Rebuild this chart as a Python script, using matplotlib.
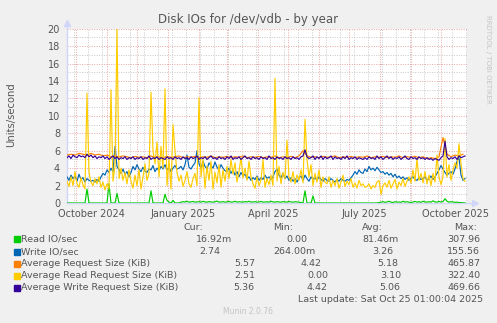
import numpy as np
import pandas as pd
import matplotlib
matplotlib.use("Agg")
import matplotlib.pyplot as plt
from matplotlib.patches import Rectangle

# ---------------------------------------------------------------------------
# Datos (un punto cada 2 dias / 4 dias)
# ---------------------------------------------------------------------------
inicio = pd.Timestamp("2024-09-22")
fin = inicio + pd.Timedelta(days=400)

read_io = [
    0, 0, 0, 0, 0, 0, 0, 0, 0, 0,
    1.6,
    0, 0, 0, 0, 0, 0, 0, 0, 0, 0,
    2.2,
    0, 0, 0,
    1.1,
    0, 0, 0, 0, 0, 0, 0, 0, 0, 0, 0, 0, 0, 0, 0, 0,
    1.4,
    0, 0, 0, 0, 0, 0,
    1.0,
    0.3, 0.1, 0,
    0.3,
    0, 0, 0,
    0.1, 0.15, 0.12, 0.2, 0.1, 0.13, 0.18, 0.1, 0.12, 0.15,
    0.1, 0.2, 0.12, 0.1, 0.16, 0.12, 0.1, 0.14, 0.22, 0.1,
    0.12, 0.15, 0.1, 0.13, 0.18, 0.1, 0.12, 0.2, 0.1, 0.14,
    0.12, 0.1, 0.16, 0.12, 0.2, 0.1, 0.13, 0.15, 0.1, 0.12,
    0.18, 0.1, 0.12, 0.14, 0.1, 0.2, 0.12, 0.1, 0.15, 0.12,
    0.1, 0.16, 0.12, 0.1, 0.18, 0.12, 0.1, 0.14, 0.12, 0.1,
    0.05, 0,
    1.4,
    0, 0, 0,
    0.8,
    0, 0, 0, 0, 0, 0, 0, 0, 0, 0, 0, 0, 0, 0, 0, 0,
    0, 0, 0, 0, 0, 0, 0, 0, 0, 0, 0, 0, 0, 0, 0, 0,
    0.05, 0.1, 0.15, 0.08, 0.12, 0.2, 0.1, 0.05, 0.15, 0.1,
    0.12, 0.08, 0.2, 0.1, 0.15, 0.1, 0.05, 0.12, 0.18, 0.1,
    0.15, 0.08, 0.2, 0.12, 0.1, 0.15, 0.1, 0.25, 0.12, 0.1,
    0.18, 0.12, 0.15, 0.5, 0.2, 0.1, 0.15, 0.12, 0.08, 0.1,
    0.05, 0.03, 0.02, 0.02,
]

write_io = [
    3.0, 2.6, 3.2, 2.8, 3.1, 2.5, 3.3, 2.7, 2.9, 2.4, 2.8, 2.6, 2.5,
    2.6, 2.4, 2.7, 2.5, 3.0, 3.4, 3.2, 3.8, 3.5,
    4.0, 3.6, 6.5, 4.2, 3.8,
    3.4, 3.9, 3.3, 3.6, 3.0, 3.5, 4.2, 3.8, 4.4, 3.9, 3.6, 4.1, 3.7, 3.5, 3.9,
    3.8, 4.3, 3.6, 4.0, 3.7, 4.2, 3.9, 4.4, 3.8, 4.1, 3.6, 4.0, 4.3, 3.9,
    4.0, 4.2, 3.8, 4.4, 5.5, 4.1, 3.9, 4.3, 4.6, 6.0,
    4.5, 4.0, 4.8, 4.2, 3.9, 4.6, 4.3, 4.0, 4.7, 4.1, 3.8, 4.4, 4.0, 3.7,
    3.6, 4.0, 3.4, 3.8, 3.2, 3.6, 3.0, 3.5, 3.1, 3.3,
    2.8, 3.0, 2.6, 2.9, 2.7, 3.1, 2.6, 2.9, 2.7, 3.2, 2.8, 3.0,
    2.7, 3.0, 3.6, 3.9, 3.2, 2.9, 3.4, 2.8, 3.1,
    2.6, 2.9, 2.5, 2.8, 2.4, 2.9, 3.1, 2.6, 3.2, 2.8, 2.5, 3.0, 2.7, 2.9, 2.6,
    3.0, 2.7, 2.5, 2.8,
    2.6, 2.5, 2.8, 2.6, 2.4, 2.7, 2.5, 2.8, 2.6, 2.5, 2.7, 2.6, 2.9,
    3.2, 3.6, 3.3, 3.8, 3.5, 3.4, 3.9, 3.6, 4.2, 3.8, 4.0, 3.7, 4.1,
    3.8, 3.5, 3.6, 3.3, 3.5, 3.2, 3.4, 3.0, 3.3, 2.9, 3.1,
    2.8, 3.0, 2.7, 2.9, 2.6, 2.8, 3.0, 2.7, 2.6, 2.9, 2.7, 2.8, 3.0, 2.6, 2.8,
    3.1, 2.7, 3.0,
    3.4, 3.8, 4.3, 3.9, 3.5, 3.2, 3.4, 3.6, 3.3,
    3.9, 4.8, 5.2, 3.2, 2.6, 2.8,
]

avg_req = [
    5.5, 5.6, 5.5, 5.7, 5.6, 5.5, 5.7, 5.5, 5.6, 5.4, 5.5, 5.3, 5.4, 5.3, 5.4, 5.3,
    5.2, 5.35, 5.25, 5.3, 5.2, 5.4, 5.25, 5.3, 5.2, 5.35,
    5.25, 5.3, 5.4, 5.2, 5.3, 5.25, 5.35, 5.2, 5.3, 5.25,
    5.4, 5.2, 5.3, 5.25, 5.35, 5.2, 5.3, 5.25, 5.4, 5.2,
    5.3, 5.25, 5.35, 5.2, 5.3, 5.25, 5.4, 5.2, 5.3, 5.25,
    5.35, 5.2, 5.4,
    6.0, 5.4,
    5.25, 5.3, 5.2, 5.35, 5.25, 5.3, 5.4, 5.2, 5.3, 5.25,
    5.35, 5.2, 5.3, 5.25, 5.4, 5.2, 5.3, 5.25, 5.35, 5.2,
    5.3, 5.25, 5.4, 5.2, 5.3, 5.25, 5.35, 5.2, 5.3, 5.1,
    5.2, 5.1, 5.3,
    7.5, 5.6,
    5.3, 5.5, 5.4, 5.6,
]

avg_read = [
    2.5, 1.9, 3.0, 2.0, 3.6, 2.2, 1.8, 2.9, 2.1, 1.6,
    12.6,
    3.5, 2.4, 2.0, 2.8, 2.2, 3.0, 1.8,
    2.4, 1.5, 2.2, 1.6,
    13.0,
    2.5, 4.2,
    20.0,
    2.8,
    4.0, 2.6, 3.5, 2.2, 3.8, 2.5, 1.7, 3.2,
    2.0, 3.8, 1.6, 3.0, 4.5, 2.6, 3.4,
    12.7,
    6.0, 4.5, 7.0, 3.0, 6.5, 4.0,
    13.1,
    2.0, 5.0, 1.6, 9.0, 6.0, 3.5,
    2.5, 3.2, 1.9, 2.6, 3.6, 2.2, 1.8, 2.8, 3.4, 2.0,
    12.1,
    3.0, 5.0, 1.7, 4.2, 2.6, 4.8, 1.6, 3.5, 2.3, 4.4, 1.8, 3.8, 2.5,
    4.2, 2.8, 5.0, 3.3, 4.6, 2.4, 3.6, 5.2, 2.9, 4.0, 2.6, 4.8, 3.0,
    2.2, 1.7, 3.0, 2.0, 2.6, 5.0, 1.8, 2.8, 2.1,
    3.2, 2.0,
    14.3,
    2.5, 4.2, 2.2, 3.5, 2.8,
    7.2,
    3.0, 2.4, 3.6, 2.2, 3.2, 2.6, 3.8, 2.3,
    9.6,
    5.0, 3.0, 4.4, 2.0, 3.4, 2.4, 3.8, 1.8, 3.0, 2.4,
    2.2, 3.0, 1.8, 2.6, 2.0, 2.8, 1.7, 2.4, 3.2, 1.9,
    2.5, 2.1, 2.8, 1.8, 2.3, 1.7, 2.6, 2.0, 2.2, 1.8,
    1.9, 2.2, 1.6, 2.0, 1.8, 2.4, 2.6, 1.0, 2.0, 2.3,
    1.8, 2.6, 1.7, 2.2, 2.7, 1.6, 2.4, 2.0, 2.8, 1.9, 2.5,
    3.0, 2.3, 3.8, 2.5, 5.1, 2.6, 3.4, 2.3, 3.6,
    2.2, 3.2, 2.0, 3.4, 2.4,
    5.5, 3.0, 2.1, 3.0,
    7.4,
    3.0, 4.4, 2.6, 3.8, 4.6, 4.0, 6.8, 4.5, 2.8, 2.5,
]

avg_write = [
    5.2, 5.4, 5.1, 5.5, 5.3, 5.2, 5.5, 5.3, 5.4, 5.2, 5.6, 5.3, 5.5, 5.2, 5.4,
    5.1, 5.3, 5.2, 5.4, 5.1, 5.3, 5.0, 5.2, 5.4, 5.1, 5.3, 5.0, 5.2, 5.1, 5.3,
    5.0, 5.2, 5.1, 5.3, 5.0, 5.2, 5.1, 5.3, 5.0, 5.2, 5.1, 5.4, 5.0, 5.2, 5.1,
    5.3, 5.0, 5.2, 5.1, 5.0, 5.3, 5.1, 5.2, 5.0, 5.3, 5.1, 5.2, 5.0, 5.3, 5.1,
    5.2, 5.0, 5.3, 5.1, 5.2, 5.4, 5.0, 5.2, 5.1, 5.3, 5.0, 5.2, 5.4, 5.1, 5.2,
    5.0, 5.3, 5.1, 5.2, 5.0, 5.3, 5.1, 5.4, 5.0, 5.2, 5.1, 5.3, 5.0, 5.2, 5.4,
    5.1, 5.2, 5.0, 5.3, 5.1, 5.2, 5.0, 5.3, 5.1, 5.2, 5.0, 5.4, 5.1, 5.2, 5.0,
    5.3, 5.1, 5.2, 5.0, 5.3, 5.1, 5.2, 5.0, 5.3, 5.1, 5.2, 5.0, 5.3, 5.4, 6.1,
    5.3, 5.1, 5.2, 5.4, 5.0, 5.3, 5.1, 5.4, 5.0, 5.3, 5.1, 5.2, 5.4, 5.0, 5.3,
    5.1, 5.2, 5.0, 5.3, 5.1, 5.4, 5.0, 5.2, 5.1, 5.3, 5.0, 5.2, 5.1, 5.0, 5.2,
    5.0, 5.3, 5.1, 5.2, 5.0, 5.4, 5.1, 5.3, 5.0, 5.2, 5.4, 5.1, 5.3, 5.0, 5.2,
    5.1, 5.3, 5.0, 5.2, 5.4, 5.1, 5.0, 5.3, 5.1, 5.2, 5.0, 5.3, 5.1, 5.2, 5.0,
    5.2, 5.0, 5.1, 4.9, 5.1, 5.0, 4.9, 5.2, 5.4, 7.1,
    5.3, 5.0, 5.2, 5.1, 5.3, 5.0, 5.4, 5.2, 5.3, 5.4,
]

# (serie, paso en dias, color, etiqueta) en el orden de dibujo de munin
series = [
    (read_io, 2, "#00CC00", "Read IO/sec"),
    (write_io, 2, "#0066B3", "Write IO/sec"),
    (avg_req, 4, "#FF8000", "Average Request Size (KiB)"),
    (avg_read, 2, "#FFCC00", "Average Read Request Size (KiB)"),
    (avg_write, 2, "#330099", "Average Write Request Size (KiB)"),
]

cur = ["16.92m", "2.74", "5.57", "2.51", "5.36"]
mins = ["0.00", "264.00m", "4.42", "0.00", "4.42"]
avgs = ["81.46m", "3.26", "5.18", "3.10", "5.06"]
maxs = ["307.96", "155.56", "465.87", "322.40", "469.66"]

etiquetas_x = ["October 2024", "January 2025", "April 2025", "July 2025", "October 2025"]
fechas_x = pd.to_datetime(["2024-10-16", "2025-01-16", "2025-04-16", "2025-07-16", "2025-10-16"])

# ---------------------------------------------------------------------------
# Figura
# ---------------------------------------------------------------------------
W, H = 497, 323
GRIS = "#555555"
fig = plt.figure(figsize=(W / 100, H / 100), dpi=100, facecolor="#F0F0F0")
ax = fig.add_axes([67 / W, 1 - 203 / H, 400 / W, (203 - 28.7) / H])
ax.set_facecolor("white")
ax.set_xlim(inicio, fin)
ax.set_ylim(0, 20)

# rejilla
estilo = dict(lw=0.7, ls=(0, (1, 1.5)), zorder=0)
for v in range(1, 20, 2):
    ax.axhline(v, color="#C8C8C8", **estilo)
for d in pd.date_range("2024-09-29", fin, freq="14D"):
    ax.axvline(d, color="#C8C8C8", **estilo)
for v in range(2, 21, 2):
    ax.axhline(v, color="#EBA5A5", **estilo)
for d in pd.date_range("2024-10-01", fin, freq="MS"):
    ax.axvline(d, color="#EBA5A5", **estilo)

for s in ax.spines.values():
    s.set_visible(False)

# ejes con flecha
eje = "#CFD6F8"
ax.plot([0, 0], [0, 1.035], transform=ax.transAxes, color=eje, lw=1, clip_on=False, zorder=1)
ax.plot([0, 1.02], [0, 0], transform=ax.transAxes, color=eje, lw=1, clip_on=False, zorder=1)
ax.plot(0, 1.035, marker="^", ms=4.5, color=eje, transform=ax.transAxes, clip_on=False)
ax.plot(1.02, 0, marker=">", ms=4.5, color=eje, transform=ax.transAxes, clip_on=False)

for valores, paso, color, etiqueta in series:
    fechas = inicio + pd.to_timedelta(np.arange(len(valores)) * paso, unit="D")
    ax.plot(fechas, valores, color=color, lw=0.85, zorder=3)

ax.set_yticks(range(0, 21, 2))
ax.set_xticks(fechas_x)
ax.set_xticklabels(etiquetas_x)
ax.tick_params(axis="both", length=0, labelsize=7, labelcolor=GRIS)
ax.tick_params(axis="y", pad=5)
ax.tick_params(axis="x", pad=4)

fig.text(248 / W, 1 - 20 / H, "Disk IOs for /dev/vdb - by year", ha="center",
         va="center", fontsize=8.5, color=GRIS)
fig.text(11 / W, 1 - 115 / H, "Units/second", rotation=90, ha="center",
         va="center", fontsize=7.2, color=GRIS)
fig.text(488 / W, 1 - 15 / H, "RRDTOOL / TOBI OETIKER", rotation=270, ha="center",
         va="top", fontsize=5, color="#C4C4C4")

# leyenda estilo munin
def texto(x, y, s, ha="left", **kw):
    fig.text(x / W, 1 - y / H, s, ha=ha, va="center", fontsize=6.8, color=GRIS, **kw)

for s, x in zip(["Cur:", "Min:", "Avg:", "Max:"], [203, 293, 383, 477]):
    texto(x, 228, s, ha="right")

fila_y = [239.3, 251.7, 263.7, 275.7, 287.7]
cur_x = [231.7, 220, 255.7, 255, 254.3]
min_x = [307.3, 316, 321.7, 328.3, 327.3]
avg_x = [398.3, 393.3, 398.3, 401, 400]
for i, (valores, paso, color, etiqueta) in enumerate(series):
    y = fila_y[i]
    fig.add_artist(Rectangle((14 / W, 1 - (y + 3) / H), 6 / W, 6 / H,
                             transform=fig.transFigure, color=color))
    texto(20.7, y, etiqueta)
    texto(cur_x[i], y, cur[i], ha="right")
    texto(min_x[i], y, mins[i], ha="right")
    texto(avg_x[i], y, avgs[i], ha="right")
    texto(480, y, maxs[i], ha="right")

texto(483, 300, "Last update: Sat Oct 25 01:00:04 2025", ha="right")
fig.text(248 / W, 1 - 312 / H, "Munin 2.0.76", ha="center", va="center",
         fontsize=5.5, color="#C4C4C4")

fig.savefig("out.png", dpi=100, facecolor=fig.get_facecolor())
